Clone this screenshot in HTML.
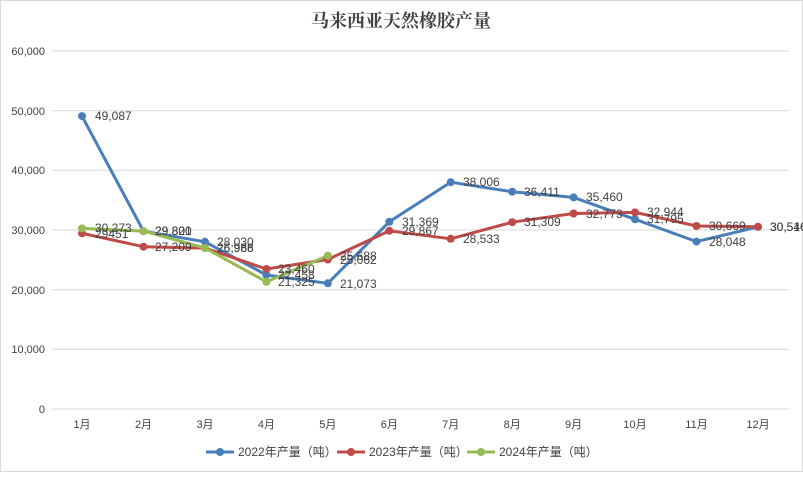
<!DOCTYPE html>
<html><head><meta charset="utf-8"><style>
body{margin:0;background:#fff;}
svg text{font-family:"Liberation Sans","Noto Sans CJK SC",sans-serif;fill:#404040;}
</style></head><body>
<svg width="803" height="472" viewBox="0 0 803 472" xmlns="http://www.w3.org/2000/svg">
<rect x="0.5" y="0.5" width="802" height="471" fill="#fff" stroke="#d9d9d9"/>
<text x="401" y="27" text-anchor="middle" font-size="18" font-weight="bold" style="font-family:'Noto Serif CJK SC','Noto Sans CJK SC',serif" fill="#404040">马来西亚天然橡胶产量</text>
<g stroke="#d9d9d9" stroke-width="1">
<line x1="52" x2="789" y1="51" y2="51"/><line x1="52" x2="789" y1="110.7" y2="110.7"/><line x1="52" x2="789" y1="170.3" y2="170.3"/><line x1="52" x2="789" y1="230" y2="230"/><line x1="52" x2="789" y1="289.7" y2="289.7"/><line x1="52" x2="789" y1="349.3" y2="349.3"/><line x1="52" x2="789" y1="409" y2="409"/>
</g>
<g font-size="11" text-anchor="end">
<text x="45" y="55">60,000</text><text x="45" y="115">50,000</text><text x="45" y="174">40,000</text><text x="45" y="234">30,000</text><text x="45" y="294">20,000</text><text x="45" y="353">10,000</text><text x="45" y="413">0</text>
</g>
<g font-size="11" text-anchor="middle">
<text x="82" y="428">1月</text><text x="143.5" y="428">2月</text><text x="205" y="428">3月</text><text x="266.4" y="428">4月</text><text x="327.8" y="428">5月</text><text x="389.3" y="428">6月</text><text x="450.7" y="428">7月</text><text x="512.2" y="428">8月</text><text x="573.6" y="428">9月</text><text x="635" y="428">10月</text><text x="696.5" y="428">11月</text><text x="758" y="428">12月</text>
</g>
<g fill="none" stroke-width="3" stroke-linejoin="round">
<polyline stroke="#4a7ebb" points="82,116.1 143.5,231.2 205,241.8 266.4,275 327.8,283.3 389.3,221.8 450.7,182.2 512.2,191.7 573.6,197.4 635,219.3 696.5,241.6 758,226.9"/>
<polyline stroke="#be4b48" points="82,233.3 143.5,246.7 205,248.1 266.4,269 327.8,259.5 389.3,230.8 450.7,238.8 512.2,222.2 573.6,213.5 635,212.4 696.5,226 758,226.7"/>
<polyline stroke="#98b954" points="82,228.4 143.5,231.1 205,248 266.4,281.8 327.8,255.7"/>
</g>
<g fill="#4a7ebb">
<circle cx="82" cy="116.1" r="4"/><circle cx="143.5" cy="231.2" r="4"/><circle cx="205" cy="241.8" r="4"/><circle cx="266.4" cy="275" r="4"/><circle cx="327.8" cy="283.3" r="4"/><circle cx="389.3" cy="221.8" r="4"/><circle cx="450.7" cy="182.2" r="4"/><circle cx="512.2" cy="191.7" r="4"/><circle cx="573.6" cy="197.4" r="4"/><circle cx="635" cy="219.3" r="4"/><circle cx="696.5" cy="241.6" r="4"/><circle cx="758" cy="226.9" r="4"/>
</g>
<g fill="#be4b48">
<circle cx="82" cy="233.3" r="4"/><circle cx="143.5" cy="246.7" r="4"/><circle cx="205" cy="248.1" r="4"/><circle cx="266.4" cy="269" r="4"/><circle cx="327.8" cy="259.5" r="4"/><circle cx="389.3" cy="230.8" r="4"/><circle cx="450.7" cy="238.8" r="4"/><circle cx="512.2" cy="222.2" r="4"/><circle cx="573.6" cy="213.5" r="4"/><circle cx="635" cy="212.4" r="4"/><circle cx="696.5" cy="226" r="4"/><circle cx="758" cy="226.7" r="4"/>
</g>
<g fill="#98b954">
<circle cx="82" cy="228.4" r="4"/><circle cx="143.5" cy="231.1" r="4"/><circle cx="205" cy="248" r="4"/><circle cx="266.4" cy="281.8" r="4"/><circle cx="327.8" cy="255.7" r="4"/>
</g>
<g font-size="12">
<text x="95" y="120">49,087</text><text x="155" y="235">29,800</text><text x="217" y="246">28,030</text><text x="278" y="279">22,458</text><text x="340" y="288">21,073</text><text x="402" y="226">31,369</text><text x="463" y="186">38,006</text><text x="524" y="196">36,411</text><text x="586" y="201">35,460</text><text x="647" y="223">31,795</text><text x="709" y="246">28,048</text><text x="770" y="231">30,516</text>
<text x="95" y="238">29451</text><text x="155" y="251">27,209</text><text x="217" y="252">26,966</text><text x="278" y="273">23,460</text><text x="340" y="264">25,062</text><text x="402" y="235">29,867</text><text x="463" y="243">28,533</text><text x="524" y="226">31,309</text><text x="586" y="218">32,773</text><text x="647" y="216">32,944</text><text x="709" y="230">30,669</text><text x="770" y="231">30,546</text>
<text x="95" y="232">30,273</text><text x="155" y="235">29,821</text><text x="217" y="252">26,988</text><text x="278" y="286">21,325</text><text x="340" y="260">25,688</text>
</g>
<g font-size="12">
<line x1="206" x2="234" y1="452" y2="452" stroke="#4a7ebb" stroke-width="3"/><circle cx="220" cy="452" r="4" fill="#4a7ebb"/><text x="238" y="456">2022年产量（吨）</text>
<line x1="337" x2="365" y1="452" y2="452" stroke="#be4b48" stroke-width="3"/><circle cx="351" cy="452" r="4" fill="#be4b48"/><text x="369" y="456">2023年产量（吨）</text>
<line x1="467" x2="495" y1="452" y2="452" stroke="#98b954" stroke-width="3"/><circle cx="481" cy="452" r="4" fill="#98b954"/><text x="499" y="456">2024年产量（吨）</text>
</g>
</svg>
</body></html>
